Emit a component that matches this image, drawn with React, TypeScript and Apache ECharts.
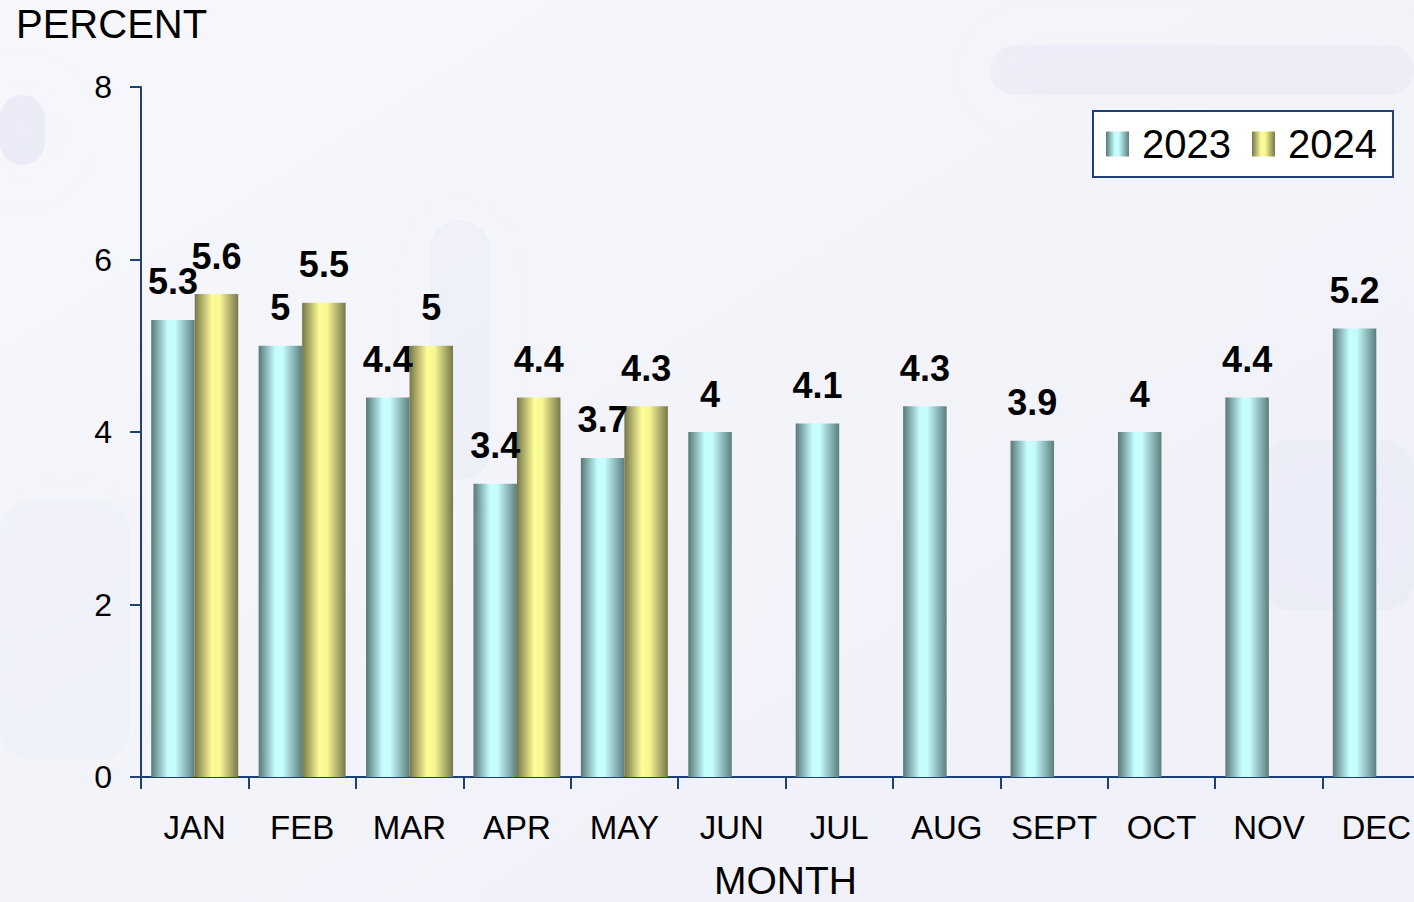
import React, { useEffect, useRef } from "react";
import * as echarts from "echarts";

const months = ["JAN", "FEB", "MAR", "APR", "MAY", "JUN", "JUL", "AUG", "SEPT", "OCT", "NOV", "DEC"];
const values2023 = [5.3, 5.0, 4.4, 3.4, 3.7, 4.0, 4.1, 4.3, 3.9, 4.0, 4.4, 5.2];
const values2024 = [5.6, 5.5, 5.0, 4.4, 4.3, null, null, null, null, null, null, null];
const yTicks = { min: 0, max: 8, interval: 2 };

const AXIS = "#1f3f78";
const FONT = "Liberation Sans, Arial, sans-serif";

const cyanGrad = new echarts.graphic.LinearGradient(0, 0, 1, 0, [
  { offset: 0, color: "#587878" },
  { offset: 0.38, color: "#c6fdfd" },
  { offset: 0.55, color: "#c6fdfd" },
  { offset: 1, color: "#5c7e7e" },
]);
const yellowGrad = new echarts.graphic.LinearGradient(0, 0, 1, 0, [
  { offset: 0, color: "#77774a" },
  { offset: 0.4, color: "#fdfd98" },
  { offset: 0.58, color: "#f7f792" },
  { offset: 1, color: "#77774a" },
]);

const soft = (x: number, y: number, w: number, h: number, a: number) => ({
  type: "rect",
  shape: { x, y, width: w, height: h, r: 30 },
  style: { fill: `rgba(208,211,234,${a})`, shadowBlur: 60, shadowColor: `rgba(208,211,234,${a})` },
  z: -10,
  silent: true,
});

export default function App() {
  const ref = useRef<HTMLDivElement>(null);
  useEffect(() => {
    const chart = echarts.init(ref.current!, null, { renderer: "svg" });
    const label = {
      show: true,
      position: "top" as const,
      distance: 20,
      color: "#000",
      fontFamily: FONT,
      fontWeight: "bold" as const,
      fontSize: 36,
      formatter: (p: any) => String(p.value),
    };
    chart.setOption({
      animation: false,
      backgroundColor: new echarts.graphic.LinearGradient(0, 0, 1, 1, [
        { offset: 0, color: "#f7f7fc" },
        { offset: 0.5, color: "#f3f4fa" },
        { offset: 1, color: "#eff0f8" },
      ]),
      graphic: [
        soft(0, 95, 45, 70, 0.3),
        soft(990, 45, 424, 50, 0.2),
        soft(430, 220, 60, 260, 0.14),
        soft(1260, 440, 154, 170, 0.16),
        soft(0, 500, 130, 260, 0.1),
        {
          type: "text",
          left: 16,
          top: 4,
          style: { text: "PERCENT", font: `40px ${FONT}`, fill: "#000" },
        },
      ],
      legend: {
        left: 1093,
        top: 111,
        orient: "horizontal",
        backgroundColor: "#ffffff",
        borderColor: AXIS,
        borderWidth: 2,
        borderRadius: 0,
        padding: [13, 16, 13, 13],
        icon: "rect",
        itemWidth: 23,
        itemHeight: 25,
        itemGap: 21,
        textStyle: { fontFamily: FONT, fontSize: 40, color: "#000", padding: [0, 0, 0, 8], lineHeight: 40 },
        data: ["2023", "2024"],
      },
      grid: { left: 141, top: 87, bottom: 125, right: -16, outerBoundsMode: "none", containLabel: false },
      xAxis: {
        type: "category",
        data: months,
        name: "MONTH",
        nameLocation: "middle",
        nameGap: 86,
        nameTextStyle: { fontFamily: FONT, fontSize: 39, color: "#000", lineHeight: 34 },
        axisLine: { lineStyle: { color: AXIS, width: 2 } },
        axisTick: { show: true, length: 12, lineStyle: { color: AXIS, width: 2 } },
        axisLabel: { fontFamily: FONT, fontSize: 33, color: "#000", margin: 34, interval: 0 },
      },
      yAxis: {
        type: "value",
        min: yTicks.min,
        max: yTicks.max,
        interval: yTicks.interval,
        splitLine: { show: false },
        axisLine: { show: true, lineStyle: { color: AXIS, width: 2 } },
        axisTick: { show: true, length: 11, lineStyle: { color: AXIS, width: 2 } },
        axisLabel: { fontFamily: FONT, fontSize: 32, color: "#000", margin: 29 },
      },
      series: [
        {
          name: "2023",
          type: "bar",
          data: values2023,
          barWidth: 43.5,
          barGap: "0%",
          itemStyle: { color: cyanGrad },
          label,
        },
        {
          name: "2024",
          type: "bar",
          data: values2024,
          barWidth: 43.5,
          barGap: "0%",
          itemStyle: { color: yellowGrad },
          label,
        },
      ],
    });
    return () => chart.dispose();
  }, []);
  return (
    <div
      ref={ref}
      style={{ position: "fixed", left: 0, top: 0, width: 1414, height: 902 }}
    />
  );
}
